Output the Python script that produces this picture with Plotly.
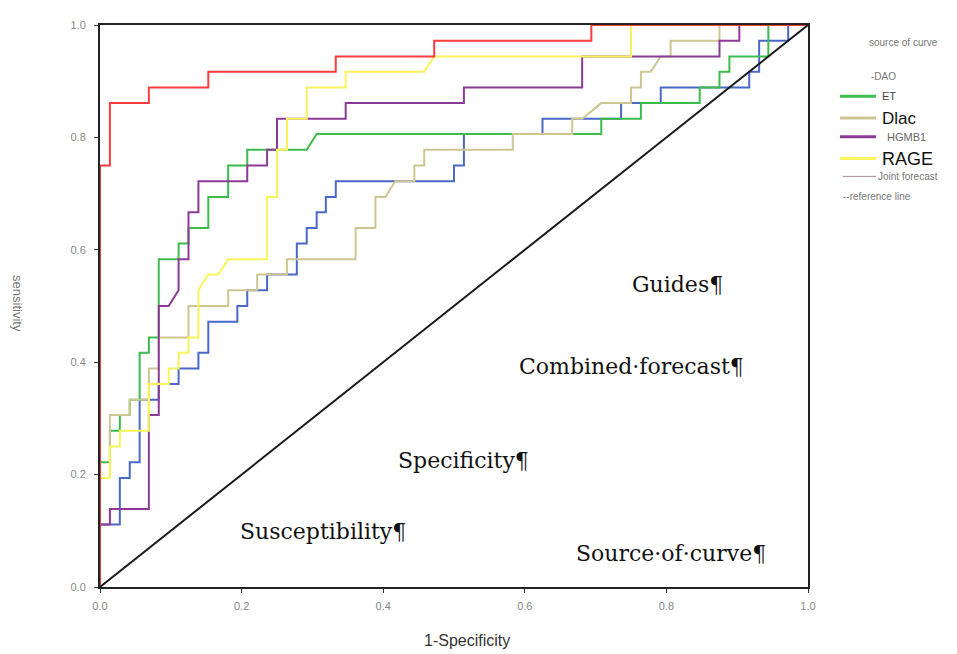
import plotly.graph_objects as go

# ROC curve vertices (1-Specificity, sensitivity)
dao_x = [0, 0, .028, .028, .042, .042, .056, .056, .083, .083, .111, .111, .139, .139, .153, .153,
         .194, .194, .208, .208, .236, .236, .278, .278, .292, .292, .306, .306, .319, .319, .333, .333,
         .5, .5, .514, .514, .625, .625, .736, .736, .792, .792, .917, .917, .931, .931, .972, .972, 1]
dao_y = [0, .111, .111, .194, .194, .222, .222, .333, .333, .361, .361, .389, .389, .417, .417, .472,
         .472, .5, .5, .528, .528, .556, .556, .611, .611, .639, .639, .667, .667, .694, .694, .722,
         .722, .75, .75, .806, .806, .833, .833, .861, .861, .889, .889, .917, .917, .972, .972, 1, 1]

et_x = [0, 0, .014, .014, .028, .028, .042, .042, .056, .056, .069, .069, .083, .083, .111, .111,
        .125, .125, .153, .153, .181, .181, .208, .208, .292, .306, .708, .708, .764, .764, .847, .847,
        .875, .875, .889, .889, .944, .944, 1]
et_y = [0, .222, .222, .278, .278, .306, .306, .333, .333, .417, .417, .444, .444, .583, .583, .611,
        .611, .639, .639, .694, .694, .75, .75, .778, .778, .806, .806, .833, .833, .861, .861, .889,
        .889, .917, .917, .944, .944, 1, 1]

dlac_x = [0, 0, .014, .014, .042, .042, .069, .069, .083, .083, .125, .125, .181, .181, .222, .222,
          .264, .264, .361, .361, .389, .389, .403, .417, .444, .444, .458, .458, .583, .583, .667, .667,
          .681, .708, .75, .75, .764, .764, .778, .792, .806, .806, .875, .875, 1]
dlac_y = [0, .194, .194, .306, .306, .333, .333, .389, .389, .444, .444, .5, .5, .528, .528, .556,
          .556, .583, .583, .639, .639, .694, .694, .722, .722, .75, .75, .778, .778, .806, .806, .833,
          .833, .861, .861, .889, .889, .917, .917, .944, .944, .972, .972, 1, 1]

hgmb1_x = [0, 0, .014, .014, .069, .069, .083, .083, .097, .111, .111, .125, .125, .139, .139, .208,
           .208, .236, .236, .25, .25, .347, .347, .514, .514, .681, .681, .875, .875, .903, .903, 1]
hgmb1_y = [0, .111, .111, .139, .139, .306, .306, .5, .5, .528, .583, .583, .667, .667, .722, .722,
           .75, .75, .778, .778, .833, .833, .861, .861, .889, .889, .944, .944, .972, .972, 1, 1]

rage_x = [0, 0, .014, .014, .028, .028, .069, .069, .097, .097, .111, .111, .125, .125, .139, .139,
          .153, .167, .181, .236, .236, .25, .25, .264, .264, .292, .292, .347, .347, .458, .472, .75,
          .75, 1]
rage_y = [0, .194, .194, .25, .25, .278, .278, .361, .361, .389, .389, .417, .417, .444, .444, .528,
          .556, .556, .583, .583, .694, .694, .778, .778, .833, .833, .889, .889, .917, .917, .944, .944,
          1, 1]

joint_x = [0, 0, .014, .014, .069, .069, .153, .153, .333, .333, .472, .472, .694, .694, 1]
joint_y = [0, .75, .75, .861, .861, .889, .889, .917, .917, .944, .944, .972, .972, 1, 1]

ref_x = [0, 1]
ref_y = [0, 1]

tick_vals = [0, 0.2, 0.4, 0.6, 0.8, 1.0]
tick_text = ["0.0", "0.2", "0.4", "0.6", "0.8", "1.0"]

series = [
    ("DAO", dao_x, dao_y, "#4a68c8"),
    ("ET", et_x, et_y, "#3dbb4c"),
    ("Dlac", dlac_x, dlac_y, "#cdc692"),
    ("HGMB1", hgmb1_x, hgmb1_y, "#8c3a98"),
    ("RAGE", rage_x, rage_y, "#f8f45a"),
    ("Joint forecast", joint_x, joint_y, "#ff3b3b"),
]

fig = go.Figure()
for name, xs, ys, col in series:
    fig.add_trace(go.Scatter(x=xs, y=ys, mode="lines", name=name,
                             line=dict(color=col, width=2), cliponaxis=False))
fig.add_trace(go.Scatter(x=ref_x, y=ref_y, mode="lines", name="reference line",
                         line=dict(color="#1a1a1a", width=2), cliponaxis=False))

# page body has an 8px margin: figure is drawn at (8, 8)
OFF = 8
W, H = 957 - OFF, 654 - OFF
L, R, T, B = 100, 808, 19, 587   # plot area in window pixels


def px(xp):
    return (xp - L) / (R - L)


def py(yp):
    return (B - yp) / (B - T)


annotations = []
# overlaid serif texts
overlay = [
    ("Guides¶", 0.816, 0.539),
    ("Combined·forecast¶", 0.750, 0.393),
    ("Specificity¶", 0.514, 0.225),
    ("Susceptibility¶", 0.315, 0.099),
    ("Source·of·curve¶", 0.806, 0.060),
]
for txt, xx, yy in overlay:
    annotations.append(dict(text=txt, x=xx, y=yy, xref="x", yref="y", showarrow=False,
                            xanchor="center", yanchor="middle",
                            font=dict(family="DejaVu Serif", size=22, color="#111")))


def note(txt, xp, yp, size, color, xanchor="left", angle=0):
    annotations.append(dict(text=txt, x=px(xp), y=py(yp), xref="paper", yref="paper",
                            xanchor=xanchor, yanchor="middle", showarrow=False, textangle=angle,
                            font=dict(family="Liberation Sans", size=size, color=color)))


# axis titles
note("1-Specificity", 467, 641, 16, "#333", xanchor="center")
note("sensitivity", 18, 300, 13, "#777", xanchor="center", angle=90)

# legend
shapes = []
note("source of curve", 903, 37, 10, "#777", xanchor="center")
note("-DAO", 869, 71, 10, "#777")
leg = [
    ("ET", 91, "#3dbb4c", 11, "#444", 880),
    ("Dlac", 113, "#cdc692", 17, "#111", 880),
    ("HGMB1", 132, "#8c3a98", 11, "#666", 885),
    ("RAGE", 154, "#f8f45a", 18, "#111", 880),
]
for txt, yy, col, fs, tc, tx in leg:
    shapes.append(dict(type="line", xref="paper", yref="paper", x0=px(840), x1=px(876),
                       y0=py(yy), y1=py(yy), line=dict(color=col, width=3)))
    note(txt, tx, yy, fs, tc)
shapes.append(dict(type="line", xref="paper", yref="paper", x0=px(843), x1=px(876),
                   y0=py(172), y1=py(172), line=dict(color="#b08890", width=1)))
note("Joint forecast", 876, 172, 10, "#777")
note("--reference line", 841, 192, 10, "#777")

axis_common = dict(range=[0, 1], tickvals=tick_vals, ticktext=tick_text, showgrid=False,
                   zeroline=False, showline=True, linecolor="#222", linewidth=2, mirror=True,
                   ticks="outside", ticklen=4, tickcolor="#333",
                   tickfont=dict(family="Liberation Sans", size=11, color="#888"))

fig.update_layout(
    width=W, height=H,
    margin=dict(l=L - OFF, r=957 - R, t=T - OFF, b=654 - B),
    plot_bgcolor="white", paper_bgcolor="white",
    showlegend=False,
    xaxis=dict(**axis_common, ticklabelstandoff=4),
    yaxis=dict(**axis_common, ticklabelstandoff=6),
    annotations=annotations,
    shapes=shapes,
)

fig.write_html("out.html")
